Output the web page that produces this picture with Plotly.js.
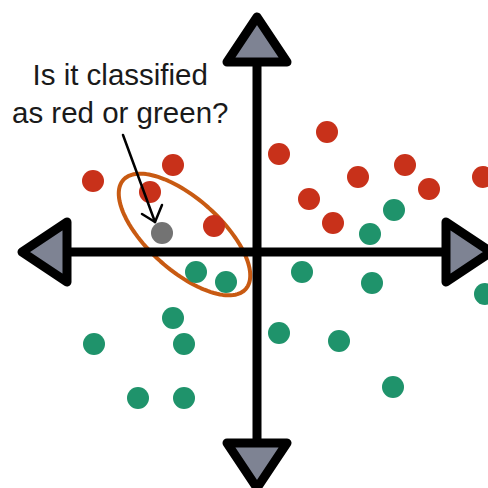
<!DOCTYPE html>
<html>
<head>
<meta charset="utf-8">
<script src="https://cdn.plot.ly/plotly-3.0.1.min.js"></script>
<style>
html,body{margin:0;padding:0;background:#fff;}
#chart{width:488px;height:488px;}
.shapelayer path{stroke-linejoin:round;stroke-linecap:round;}
</style>
</head>
<body>
<div id="chart"></div>
<script>
// Data (coordinates relative to the axis origin, y up)
const redX = [-164, -107, -84, -43, 22, 70, 52, 101, 76, 148, 172, 226];
const redY = [71, 60, 87, 26, 98, 120, 53, 75, 29, 87, 63, 75];
const greenX = [-61, -31, 45, 115, 228, -84, -163, -73, 22, 82, 136, -119, -73, 137, 113];
const greenY = [-20, -30, -20, -31, -42, -66, -92, -92, -81, -89, -135, -146, -146, 42, 18];
const queryX = [-95];
const queryY = [19];
const questionText = "Is it classified<br>as red or green?";

// Styles
const RED = '#c8311a', GREEN = '#1f936b', GREY = '#737373';
const AXIS_FILL = '#7e8393', ORANGE = '#c85a12';

// Ellipse (neighbourhood) drawn as path
function ellipsePath(cx, cy, a, b, angDeg, n) {
  const th = angDeg * Math.PI / 180;
  let d = '';
  for (let i = 0; i <= n; i++) {
    const t = 2 * Math.PI * i / n;
    const x = cx + a * Math.cos(t) * Math.cos(th) - b * Math.sin(t) * Math.sin(th);
    const y = cy + a * Math.cos(t) * Math.sin(th) + b * Math.sin(t) * Math.cos(th);
    d += (i === 0 ? 'M' : 'L') + x.toFixed(2) + ',' + y.toFixed(2);
  }
  return d + 'Z';
}

const shapes = [
  {type:'path', path: ellipsePath(-72.5, 17.5, 82, 36, -41.7, 120), line:{color:ORANGE, width:4}, layer:'below'},
  // axes
  {type:'line', x0:-190, y0:0, x1:189, y1:0, line:{color:'#000', width:9}, layer:'below'},
  {type:'line', x0:0, y0:-191, x1:0, y1:190, line:{color:'#000', width:9}, layer:'below'},
  // arrowheads
  {type:'path', path:'M-30,190L0,235L30,190Z', fillcolor:AXIS_FILL, line:{color:'#000', width:9}, layer:'below'},
  {type:'path', path:'M-30,-191L0,-236L30,-191Z', fillcolor:AXIS_FILL, line:{color:'#000', width:9}, layer:'below'},
  {type:'path', path:'M-190,30L-235,0L-190,-30Z', fillcolor:AXIS_FILL, line:{color:'#000', width:9}, layer:'below'},
  {type:'path', path:'M189,30L234,0L189,-30Z', fillcolor:AXIS_FILL, line:{color:'#000', width:9}, layer:'below'},
  // pointer arrow
  {type:'line', x0:-134, y0:117, x1:-102, y1:30, line:{color:'#000', width:2.5}, layer:'above'},
  {type:'path', path:'M-115,38L-102,30L-95,47', line:{color:'#000', width:2.5}, layer:'above'}
];

const traces = [
  {x:redX, y:redY, type:'scatter', mode:'markers', marker:{color:RED, size:22}, hoverinfo:'skip'},
  {x:greenX, y:greenY, type:'scatter', mode:'markers', marker:{color:GREEN, size:22}, hoverinfo:'skip'},
  {x:queryX, y:queryY, type:'scatter', mode:'markers', marker:{color:GREY, size:22}, hoverinfo:'skip'}
];

const layout = {
  width:488, height:488,
  margin:{l:0, r:0, t:0, b:0},
  paper_bgcolor:'#fff', plot_bgcolor:'#fff',
  showlegend:false,
  xaxis:{range:[-257, 231], visible:false, fixedrange:true},
  yaxis:{range:[-236, 252], visible:false, fixedrange:true},
  shapes: shapes,
  annotations:[{
    x:-137, y:159, xref:'x', yref:'y', showarrow:false,
    text:questionText, align:'center', xanchor:'center', yanchor:'middle',
    font:{family:'Liberation Sans, Arial, sans-serif', size:29.5, color:'#1a1a1a'}
  }]
};

Plotly.newPlot('chart', traces, layout, {staticPlot:true, displayModeBar:false});
</script>
</body>
</html>
